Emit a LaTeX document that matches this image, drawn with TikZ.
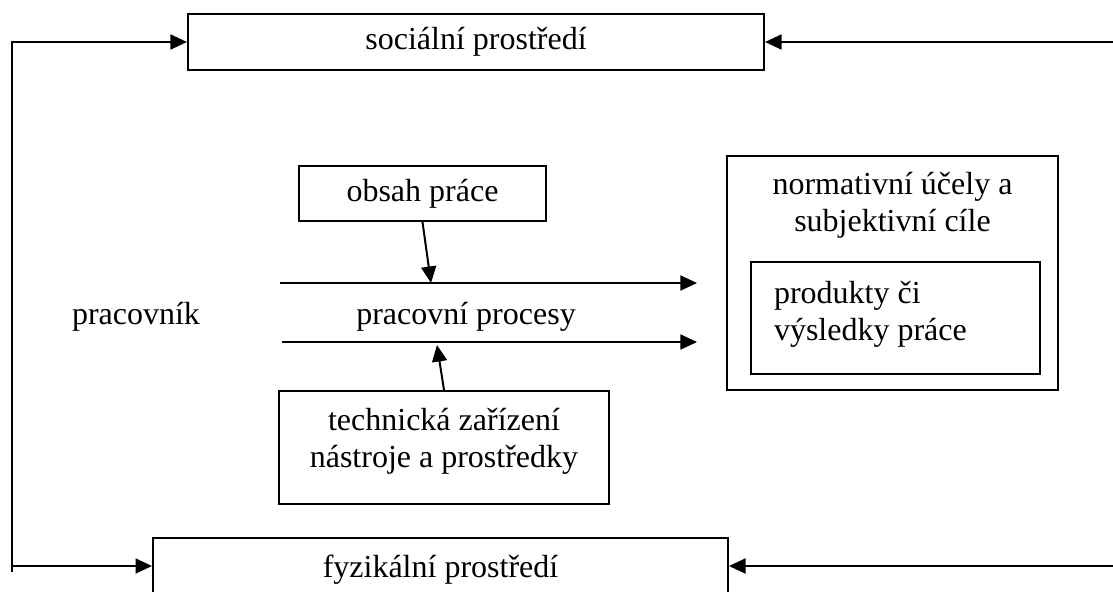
\documentclass[tikz,border=0pt]{standalone}
\usepackage{fontspec}
\setmainfont{Liberation Serif}
\usetikzlibrary{arrows.meta}
\begin{document}
\begin{tikzpicture}[x=0.375pt,y=-0.375pt,
  line width=0.75pt,
  arr/.style={-{Triangle[length=6.2pt,width=5.6pt]}},
  box/.style={draw, line width=0.75pt, inner sep=0pt},
  txt/.style={inner sep=0pt, font=\fontsize{12}{13.8}\selectfont},
  every node/.style={font=\fontsize{12}{13.8}\selectfont}]
\useasboundingbox (0,0) rectangle (1113,591);
\clip (0,0) rectangle (1113,591);

% boxes
\node[box, minimum width=216pt, minimum height=21pt] (soc) at (476,42) {sociální prostředí};
\node[box, minimum width=92.6pt, minimum height=20.6pt] (obsah) at (422.5,193.5) {obsah práce};
\node[box, minimum width=123.75pt, minimum height=42.4pt] (tech) at (444,447.5) {};
\node[txt, align=center] (techt) at (444,441) {technická zařízení\\nástroje a prostředky};
\node[box, minimum width=124.1pt, minimum height=87.75pt] (norm) at (892.5,273) {};
\node[txt, align=center] (normt) at (892.5,205) {normativní účely a\\subjektivní cíle};
\node[box, minimum width=108.4pt, minimum height=42pt] (prod) at (895.5,318) {};
\node[txt, align=left, anchor=west] (prodt) at (773,314) {produkty či\\výsledky práce};
\node[box, minimum width=215.6pt, minimum height=24pt] (fyz) at (440.5,570) {fyzikální prostředí};

% free texts
\node[txt] (prac) at (136,317) {pracovník};
\node[txt] (proc) at (466,317) {pracovní procesy};

% coordinates
\coordinate (lt) at (12,42);
\coordinate (lb) at (12,572);
\coordinate (lm) at (12,566);
\coordinate (rt) at (1113,42);
\coordinate (rb) at (1113,566);
\coordinate (p1s) at (280,283);
\coordinate (p1e) at (697,283);
\coordinate (p2s) at (282,342);
\coordinate (p2e) at (697,342);
\coordinate (pa) at (431,283);
\coordinate (pb) at (437,345);

% connectors
\draw[arr] (lb) -- (lt) -- (soc.west);
\draw[arr] (lm) -- (fyz.west |- lm);
\draw[arr] (rt) -- (soc.east);
\draw[arr] (rb) -- (fyz.east |- rb);
\draw[arr] (p1s) -- (p1e);
\draw[arr] (p2s) -- (p2e);
\draw[arr] (obsah.south) -- (pa);
\draw[arr] (tech.north) -- (pb);
\end{tikzpicture}
\end{document}
